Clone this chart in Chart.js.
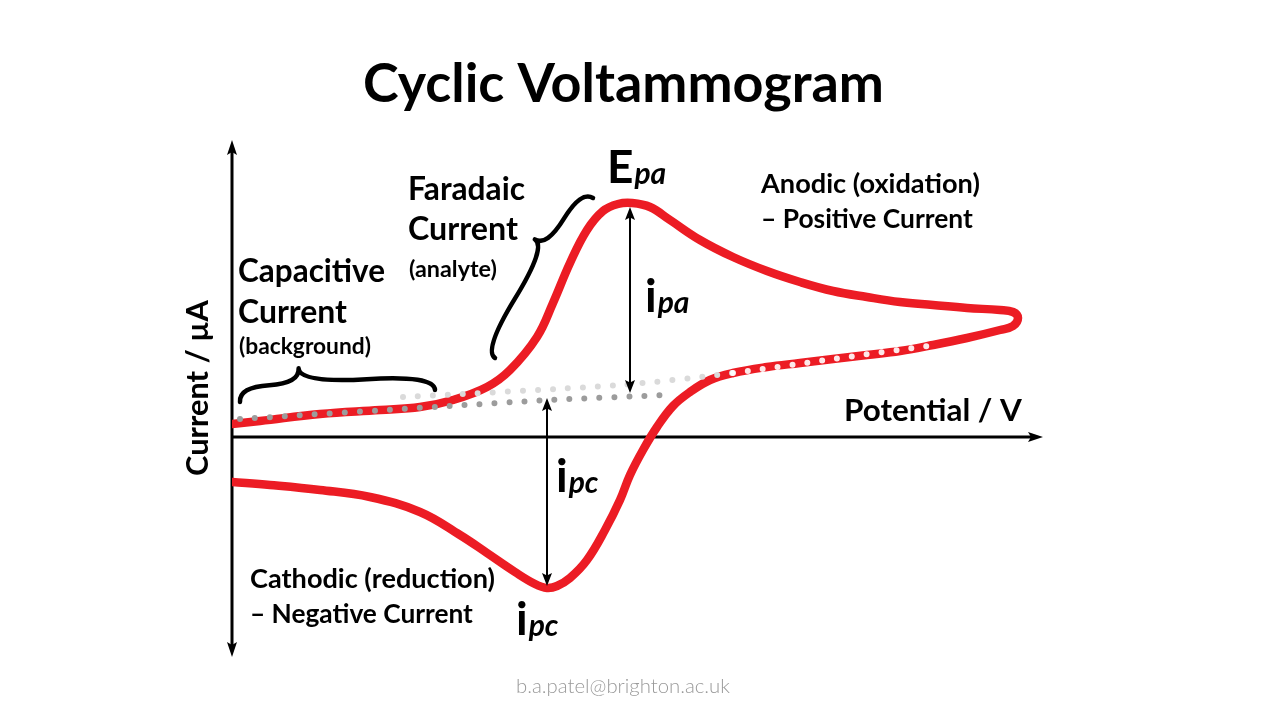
<!DOCTYPE html>
<html>
<head>
<meta charset="utf-8">
<title>Cyclic Voltammogram</title>
<script src="https://cdn.jsdelivr.net/npm/chart.js@4.4.1/dist/chart.umd.min.js"></script>
<style>
  html, body { margin: 0; padding: 0; background: #fff; }
  #wrap { width: 1280px; height: 720px; }
</style>
</head>
<body>
<div id="wrap"><canvas id="cv" width="1280" height="720"></canvas></div>
<script>
// potential (V) and current (uA), one full sweep
const sweepV = [0, 0.028, 0.088, 0.148, 0.188, 0.221, 0.255, 0.278, 0.305, 0.321,
  0.338, 0.355, 0.371, 0.386, 0.400, 0.418, 0.438, 0.468, 0.501, 0.535,
  0.568, 0.601, 0.635, 0.668, 0.701, 0.735, 0.768, 0.781, 0.786, 0.781,
  0.768, 0.735, 0.701, 0.668, 0.635, 0.601, 0.568, 0.535, 0.501, 0.478,
  0.458, 0.441, 0.425, 0.411, 0.398, 0.388, 0.373, 0.355, 0.338, 0.325,
  0.315, 0.303, 0.283, 0.255, 0.228, 0.188, 0.138, 0.088, 0.038, 0];
const sweepI = [1.3, 1.6, 2.3, 2.7, 3.0, 3.7, 5.0, 6.7, 10.0, 13.4,
  17.4, 20.7, 22.6, 23.3, 23.4, 23.0, 21.7, 19.7, 18.0, 16.6,
  15.5, 14.6, 14.0, 13.5, 13.2, 12.9, 12.7, 12.5, 11.9, 11.1,
  10.7, 9.9, 9.2, 8.6, 8.2, 7.8, 7.4, 7.0, 6.4, 5.7,
  4.5, 3.1, 1.0, -1.3, -3.8, -6.3, -9.3, -12.3, -14.1, -14.9,
  -15.1, -14.7, -13.5, -11.6, -9.8, -7.5, -6.0, -5.3, -4.8, -4.5];

// extrapolated background (dotted) lines
const baseV = [0.008, 0.218, 0.318, 0.435];
const baseI = [1.8, 3.1, 3.7, 4.2];
const backV = [0.171, 0.388, 0.501, 0.601, 0.703];
const backI = [4.0, 5.2, 6.4, 7.8, 9.2];

// peak markers
const Epa = 0.398, ipaTop = 23.0, ipaBase = 4.4;
const Epc = 0.315, ipcBottom = -14.9, ipcBase = 3.9;

const toPts = (xs, ys) => xs.map((x, i) => ({ x, y: ys[i] }));
const FONT = "Lato, 'Open Sans', sans-serif";

function fitText(ctx, text, x, y, w, style) {
  ctx.font = `${style} 100px ${FONT}`;
  const size = 100 * w / ctx.measureText(text).width;
  ctx.font = `${style} ${size}px ${FONT}`;
  ctx.fillText(text, x, y);
}

function subLabel(ctx, main, sub, x, y) {
  ctx.font = `bold 46px ${FONT}`;
  ctx.fillText(main, x, y);
  const w = ctx.measureText(main).width;
  ctx.font = `italic bold 30px ${FONT}`;
  ctx.fillText(sub, x + w + 1, y + 1);
}

function head(ctx, x, y, ang, len, half) {
  ctx.save();
  ctx.translate(x, y);
  ctx.rotate(ang);
  ctx.beginPath();
  ctx.moveTo(0, 0);
  ctx.lineTo(-len, -half);
  ctx.lineTo(-len * 0.8, 0);
  ctx.lineTo(-len, half);
  ctx.closePath();
  ctx.fill();
  ctx.restore();
}

function brace(ctx, x1, y1, x2, y2, w, q, t) {
  let dx = x1 - x2, dy = y1 - y2;
  const len = Math.hypot(dx, dy);
  dx /= len; dy /= len;
  const p = (f, k) => [x1 - f * len * dx + k * w * dy, y1 - f * len * dy - k * w * dx].join(",");
  const d = `M ${x1},${y1} Q ${p(0, q)} ${p(t / 2, 1 - q)} T ${p(t, 1)} ` +
            `M ${x2},${y2} Q ${p(1, q)} ${p((1 + t) / 2, 1 - q)} T ${p(t, 1)}`;
  ctx.stroke(new Path2D(d));
}

const axesPlugin = {
  id: "axes",
  beforeDatasetsDraw(chart) {
    const { ctx, chartArea: a, scales: { x, y } } = chart;
    const x0 = x.getPixelForValue(0), y0 = y.getPixelForValue(0);
    ctx.save();
    ctx.strokeStyle = "#000";
    ctx.fillStyle = "#000";
    ctx.lineWidth = 3;
    ctx.beginPath();
    ctx.moveTo(x0, a.top + 6);
    ctx.lineTo(x0, a.bottom - 6);
    ctx.moveTo(x0, y0);
    ctx.lineTo(a.right - 6, y0);
    ctx.stroke();
    head(ctx, x0, a.top, -Math.PI / 2, 15, 5);
    head(ctx, x0, a.bottom, Math.PI / 2, 15, 5);
    head(ctx, a.right, y0, 0, 15, 5);
    ctx.restore();
  },
  afterDraw(chart) {
    const { ctx, scales: { x, y } } = chart;
    ctx.save();
    ctx.fillStyle = "#000";
    ctx.strokeStyle = "#000";

    // peak current arrows
    ctx.lineWidth = 2;
    const vArrow = (v, i1, i2) => {
      const px = x.getPixelForValue(v), p1 = y.getPixelForValue(i1), p2 = y.getPixelForValue(i2);
      ctx.beginPath();
      ctx.moveTo(px, p1 + 8);
      ctx.lineTo(px, p2 - 8);
      ctx.stroke();
      head(ctx, px, p1, -Math.PI / 2, 13, 5);
      head(ctx, px, p2, Math.PI / 2, 13, 5);
    };
    vArrow(Epa, ipaTop, ipaBase);
    vArrow(Epc, ipcBase, ipcBottom);

    // braces
    ctx.lineWidth = 4.5;
    ctx.lineCap = "round";
    brace(ctx, 435, 390, 240, 402, 30, 0.5, 0.69);
    brace(ctx, 593, 198, 495, 358, 28, 0.5, 0.35);

    // texts
    ctx.textBaseline = "alphabetic";
    ctx.textAlign = "left";
    fitText(ctx, "Cyclic Voltammogram", 363, 102, 521, "bold");
    fitText(ctx, "Faradaic", 408, 200, 117, "bold");
    fitText(ctx, "Current", 408, 240, 110, "bold");
    fitText(ctx, "(analyte)", 409, 277, 88, "bold");
    fitText(ctx, "Capacitive", 238, 282, 147, "bold");
    fitText(ctx, "Current", 238, 323, 109, "bold");
    fitText(ctx, "(background)", 239, 354, 132, "bold");
    fitText(ctx, "Anodic (oxidation)", 761, 193, 219, "bold");
    fitText(ctx, "\u2013 Positive Current", 761, 228, 212, "bold");
    fitText(ctx, "Cathodic (reduction)", 250, 588, 245, "bold");
    fitText(ctx, "\u2013 Negative Current", 250, 623, 223, "bold");
    fitText(ctx, "Potential / V", 844, 421, 178, "bold");

    subLabel(ctx, "E", "pa", 607, 183);
    subLabel(ctx, "i", "pa", 645, 312);
    subLabel(ctx, "i", "pc", 556, 492);
    subLabel(ctx, "i", "pc", 516, 635);

    ctx.save();
    ctx.translate(208, 388);
    ctx.rotate(-Math.PI / 2);
    ctx.textAlign = "center";
    fitText(ctx, "Current / \u00b5A", 0, 0, 176, "bold");
    ctx.restore();

    ctx.fillStyle = "#9a9a9a";
    ctx.textAlign = "center";
    fitText(ctx, "b.a.patel@brighton.ac.uk", 623, 693, 214, "300");
    ctx.restore();
  }
};

new Chart(document.getElementById("cv"), {
  type: "scatter",
  data: {
    datasets: [
      {
        label: "background (forward)",
        data: toPts(baseV, baseI),
        showLine: true,
        borderColor: "#9c9c9c",
        borderWidth: 6,
        borderDash: [0, 15],
        borderCapStyle: "round",
        pointRadius: 0,
        tension: 0.3,
      },
      {
        label: "background (reverse)",
        data: toPts(backV, backI),
        showLine: true,
        borderColor: "#dadada",
        borderWidth: 6,
        borderDash: [0, 15],
        borderCapStyle: "round",
        pointRadius: 0,
        tension: 0.3,
        segment: {
          borderColor: (c) => (c.p0.parsed.x >= 0.5 ? "rgba(255,255,255,0.9)" : undefined),
        },
      },
      {
        label: "CV",
        data: toPts(sweepV, sweepI),
        showLine: true,
        borderColor: "#ec1c24",
        borderWidth: 8.5,
        borderCapStyle: "round",
        borderJoinStyle: "round",
        pointRadius: 0,
        tension: 0.4,
      },
    ],
  },
  options: {
    responsive: false,
    animation: false,
    events: [],
    layout: { padding: { left: 232, right: 237, top: 140, bottom: 63 } },
    scales: {
      x: { type: "linear", min: 0, max: 0.811, display: false },
      y: { type: "linear", min: -22, max: 29.7, display: false },
    },
    plugins: {
      legend: { display: false },
      tooltip: { enabled: false },
    },
  },
  plugins: [axesPlugin],
});
</script>
</body>
</html>
